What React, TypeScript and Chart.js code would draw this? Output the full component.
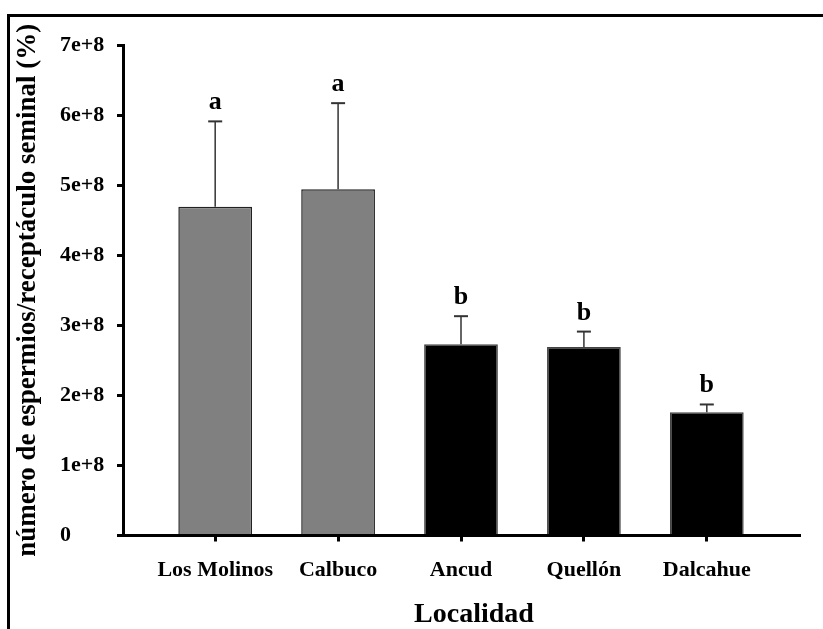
import React, { useEffect, useRef } from 'react';
import { Chart, registerables } from 'chart.js';

Chart.register(...registerables);

// ---- data ----
const categories = ['Los Molinos', 'Calbuco', 'Ancud', 'Quellón', 'Dalcahue'];
const means = [4.69e8, 4.94e8, 2.73e8, 2.69e8, 1.76e8];
const errors = [1.22e8, 1.23e8, 0.4e8, 0.22e8, 0.11e8];
const letters = ['a', 'a', 'b', 'b', 'b'];
const yTicks = [0, 1e8, 2e8, 3e8, 4e8, 5e8, 6e8, 7e8];
const yTickLabels = ['0', '1e+8', '2e+8', '3e+8', '4e+8', '5e+8', '6e+8', '7e+8'];
const xTitle = 'Localidad';
const yTitle = 'número de espermios/receptáculo seminal (%)';

// ---- styles ----
const FONT = '"Liberation Serif", "Times New Roman", serif';
const barFill = ['#808080', '#808080', '#000000', '#000000', '#000000'];
const barEdge = ['#222222', '#222222', '#444444', '#444444', '#444444'];

const annotate = {
  id: 'annotate',
  afterDatasetsDraw(chart: any) {
    const { ctx, scales, chartArea } = chart;
    const x = scales.x;
    const y = scales.y;
    ctx.save();
    means.forEach((m, i) => {
      const px = x.getPixelForValue(i);
      const pMean = y.getPixelForValue(m);
      const pTop = y.getPixelForValue(m + errors[i]);
      ctx.strokeStyle = '#333333';
      ctx.lineWidth = 1.5;
      ctx.beginPath();
      ctx.moveTo(px, pMean);
      ctx.lineTo(px, pTop);
      ctx.stroke();
      ctx.lineWidth = 2;
      ctx.beginPath();
      ctx.moveTo(px - 7, pTop);
      ctx.lineTo(px + 7, pTop);
      ctx.stroke();
      ctx.fillStyle = '#000';
      ctx.font = `bold 26px ${FONT}`;
      ctx.textAlign = 'center';
      ctx.textBaseline = 'alphabetic';
      ctx.fillText(letters[i], px, pTop - 12);
    });
    // x title
    ctx.fillStyle = '#000';
    ctx.font = `bold 28px ${FONT}`;
    ctx.textAlign = 'center';
    ctx.textBaseline = 'alphabetic';
    ctx.fillText(xTitle, (chartArea.left + chartArea.right) / 2 + 13, 622);
    // y title
    ctx.save();
    ctx.translate(28, (chartArea.top + chartArea.bottom) / 2);
    ctx.rotate(-Math.PI / 2);
    ctx.font = `bold 27px ${FONT}`;
    ctx.textAlign = 'center';
    ctx.textBaseline = 'middle';
    ctx.fillText(yTitle, 0, 0);
    ctx.restore();
    ctx.restore();
  },
};

export default function App() {
  const ref = useRef<HTMLCanvasElement>(null);
  useEffect(() => {
    if (!ref.current) return;
    const chart = new Chart(ref.current, {
      type: 'bar',
      data: {
        datasets: [
          {
            data: means.map((m, i) => ({ x: i, y: m })) as any,
            backgroundColor: barFill,
            borderColor: barEdge,
            borderWidth: 1.5,
            barPercentage: 0.6,
            categoryPercentage: 1,
          },
        ],
      },
      options: {
        responsive: false,
        animation: false,
        layout: { padding: { left: 60, top: 45, right: 24, bottom: 0 } },
        plugins: { legend: { display: false }, tooltip: { enabled: false }, title: { display: false } },
        scales: {
          x: {
            type: 'linear',
            min: -0.75,
            max: 4.75,
            offset: false,
            afterBuildTicks: (s: any) => {
              s.ticks = categories.map((_, i) => ({ value: i }));
            },
            afterFit: (s: any) => {
              s.height = 93.5;
            },
            ticks: {
              callback: (_v: any, i: number) => categories[i],
              autoSkip: false,
              maxRotation: 0,
              minRotation: 0,
              padding: 16,
              color: '#000',
              font: { family: FONT, size: 22, weight: 'bold' },
            },
            grid: { offset: false, drawOnChartArea: false, tickLength: 6, lineWidth: 3, color: '#000' },
            border: { width: 3, color: '#000' },
          },
          y: {
            min: 0,
            max: 7e8,
            afterBuildTicks: (s: any) => {
              s.ticks = yTicks.map((v) => ({ value: v }));
            },
            afterFit: (s: any) => {
              s.width = 63;
            },
            ticks: {
              callback: (_v: any, i: number) => yTickLabels[i],
              crossAlign: 'far',
              color: '#000',
              font: { family: FONT, size: 22, weight: 'bold' },
            },
            grid: { drawOnChartArea: false, tickLength: 6, lineWidth: 3, color: '#000' },
            border: { width: 3, color: '#000' },
          },
        },
      } as any,
      plugins: [annotate],
    });
    return () => chart.destroy();
  }, []);

  return (
    <div style={{ position: 'fixed', left: 0, top: 0, width: 823, height: 629, background: '#fff', overflow: 'hidden' }}>
      <canvas ref={ref} width={823} height={629} style={{ display: 'block' }} />
      <div
        style={{
          position: 'absolute',
          left: 7,
          top: 14,
          right: -10,
          bottom: -10,
          borderTop: '3px solid #000',
          borderLeft: '3px solid #000',
          pointerEvents: 'none',
        }}
      />
    </div>
  );
}
